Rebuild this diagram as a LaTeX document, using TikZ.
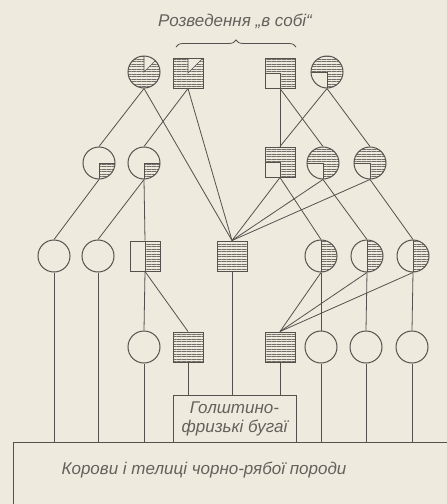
\documentclass[tikz,border=0pt]{standalone}
\usepackage{fontspec}
\setmainfont{Liberation Sans}
\usetikzlibrary{patterns.meta,decorations.pathreplacing}
\definecolor{paper}{RGB}{238,234,222}
\definecolor{ink}{RGB}{85,81,77}
\definecolor{hatchc}{RGB}{115,110,105}
\definecolor{txt}{RGB}{100,97,93}
\tikzset{
  hatch/.style={pattern={Lines[angle=0,distance=2.5pt,line width=0.6pt]},pattern color=hatchc},
  fem/.style={circle,draw=ink,line width=1pt,minimum size=32pt,inner sep=0pt,fill=paper},
  male/.style={rectangle,draw=ink,line width=1pt,minimum width=30pt,minimum height=30pt,inner sep=0pt,fill=paper},
  sevenE/.style={path picture={
    \fill[hatch] (path picture bounding box.center) -- (path picture bounding box.north) -- (path picture bounding box.north west) -- (path picture bounding box.south west) -- (path picture bounding box.south east) -- (path picture bounding box.north east) -- cycle;
    \draw[ink,line width=0.7pt] (path picture bounding box.north) -- (path picture bounding box.center) -- (path picture bounding box.north east);}},
  threeq/.style={path picture={
    \fill[hatch] (path picture bounding box.center) -- (path picture bounding box.west) -- (path picture bounding box.north west) -- (path picture bounding box.north east) -- (path picture bounding box.south east) -- (path picture bounding box.south) -- cycle;
    \draw[ink,line width=0.7pt] (path picture bounding box.west) -- (path picture bounding box.center) -- (path picture bounding box.south);}},
  quarter/.style={path picture={
    \fill[hatch] (path picture bounding box.center) rectangle (path picture bounding box.south east);
    \draw[ink,line width=0.7pt] (path picture bounding box.east) -- (path picture bounding box.center) -- (path picture bounding box.south);}},
  halfh/.style={path picture={
    \fill[hatch] (path picture bounding box.north) rectangle (path picture bounding box.south east);
    \draw[ink,line width=0.7pt] (path picture bounding box.north) -- (path picture bounding box.south);}},
  fullh/.style={path picture={
    \fill[hatch] (path picture bounding box.north west) rectangle (path picture bounding box.south east);}},
  link/.style={draw=ink,line width=0.8pt},
  lbl/.style={text=txt,font=\itshape\fontsize{17}{19}\selectfont,inner sep=0pt},
}
\begin{document}
\begin{tikzpicture}[x=1pt,y=-1pt]
\path[use as bounding box,fill=paper] (0,0) rectangle (447,504);
% title and brace
\node[lbl] (title) at (235,21) {Розведення „в собі“};
\coordinate (bl) at (176,47);
\coordinate (br) at (296,47);
\draw[ink,line width=0.8pt,decorate,decoration={brace,amplitude=7pt}] (bl) -- (br);
% bottom boxes
\node[draw=ink,line width=1pt,fill=paper,anchor=north west,minimum width=460pt,minimum height=90pt,inner sep=0pt] (X) at (13,442) {};
\node[lbl] (Xt) at (204,470) {Корови і телиці чорно-рябої породи};
\node[draw=ink,line width=1pt,fill=paper,minimum width=123pt,minimum height=47pt,align=center,lbl,text=txt,inner sep=0pt] (W) at (234.5,418.5) {Голштино-\\фризькі бугаї};
% row 1
\node[fem,sevenE] (A) at (144,72) {};
\node[male,sevenE] (B) at (188,73) {};
\node[male,threeq] (C) at (280,73) {};
\node[fem,threeq] (D) at (327,72) {};
% row 2
\node[fem,quarter] (E) at (99,163) {};
\node[fem,quarter] (F) at (144,163) {};
\node[male,threeq] (G) at (280,162) {};
\node[fem,threeq] (H) at (323,163) {};
\node[fem,threeq] (I) at (370,163) {};
% row 3
\node[fem] (J) at (54,256) {};
\node[fem] (K) at (98,256) {};
\node[male,halfh] (L) at (145,256) {};
\node[male,fullh] (M) at (232,256) {};
\node[fem,halfh] (N) at (321,256) {};
\node[fem,halfh] (O) at (367,256) {};
\node[fem,halfh] (P) at (413,256) {};
% row 4
\node[fem] (Q) at (144,347) {};
\node[male,fullh] (R) at (188,347) {};
\node[male,fullh] (S) at (280,347) {};
\node[fem] (T) at (321,347) {};
\node[fem] (U) at (366,347) {};
\node[fem] (V) at (412,347) {};
% links row1 -> row2/3
\path[link] (A.south) -- (E.north);
\path[link] (A.south) -- (M.north);
\path[link] (B.south) -- (F.north);
\path[link] (B.south) -- (M.north);
\path[link] (C.south) -- (G.north);
\path[link] (C.south) -- (H.north);
\path[link] (D.south) -- (G.north);
\path[link] (D.south) -- (I.north);
% row2 -> row3
\path[link] (E.south) -- (J.north);
\path[link] (F.south) -- (K.north);
\path[link] (F.south) -- (L.north);
\path[link] (G.south) -- (M.north);
\path[link] (G.south) -- (N.north);
\path[link] (H.south) -- (M.north);
\path[link] (H.south) -- (O.north);
\path[link] (I.south) -- (M.north);
\path[link] (I.south) -- (P.north);
% row3 -> row4
\path[link] (L.south) -- (Q.north);
\path[link] (L.south) -- (R.north);
\path[link] (N.south) -- (T.north);
\path[link] (N.south) -- (S.north);
\path[link] (O.south) -- (U.north);
\path[link] (O.south) -- (S.north);
\path[link] (P.south) -- (V.north);
\path[link] (P.south) -- (S.north);
% to boxes
\path[link] (J.south) -- (J.south |- X.north);
\path[link] (K.south) -- (K.south |- X.north);
\path[link] (Q.south) -- (Q.south |- X.north);
\path[link] (T.south) -- (T.south |- X.north);
\path[link] (U.south) -- (U.south |- X.north);
\path[link] (V.south) -- (V.south |- X.north);
\path[link] (M.south) -- (M.south |- W.north);
\path[link] (R.south) -- (R.south |- W.north);
\path[link] (S.south) -- (S.south |- W.north);
\end{tikzpicture}
\end{document}
